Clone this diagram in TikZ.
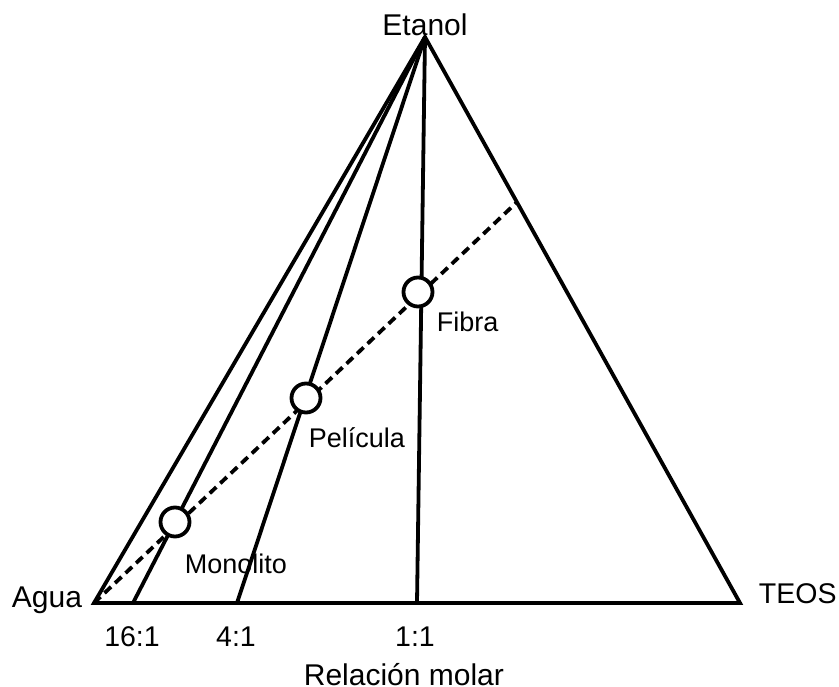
\documentclass[tikz,border=0pt]{standalone}
\usepackage{fontspec}
\setmainfont{Liberation Sans}
\begin{document}
\begin{tikzpicture}[x=1pt,y=-1pt,line width=3.8pt,
  lbl/.style={font=\fontsize{30}{32}\selectfont,inner sep=0pt},
  rlbl/.style={font=\fontsize{28.5}{30}\selectfont,inner sep=0pt},
  slbl/.style={font=\fontsize{27}{29}\selectfont,inner sep=0pt},
  circ/.style={circle,draw,fill=white,minimum size=29pt,inner sep=0pt,line width=3.8pt},
  dashline/.style={dash pattern=on 9pt off 5.5pt}]
\useasboundingbox (0,0) rectangle (839,687);
\coordinate (E) at (425,37);
\coordinate (A) at (94,603);
\coordinate (T) at (740,603);
\coordinate (r16) at (133,603);
\coordinate (r4) at (237,603);
\coordinate (r1) at (417,603);
\coordinate (D) at (516,203);
\draw[dashline] (A) -- (D);
\draw (E) -- (r16);
\draw (E) -- (r4);
\draw (E) -- (r1);
\draw[line join=miter] (A) -- (E) -- (T) -- cycle;
\node[circ] (mono) at (175,522) {};
\node[circ] (peli) at (306,398) {};
\node[circ] (fib) at (418,292) {};
\node[lbl,anchor=base] (etanol) at (425,36) {Etanol};
\node[lbl,anchor=base west] (agua) at (10,607) {Agua};
\node[rlbl,anchor=base west] (teos) at (757,603) {TEOS};
\node[rlbl,anchor=base] (t16) at (132,646) {16:1};
\node[rlbl,anchor=base] (t4) at (236,646) {4:1};
\node[rlbl,anchor=base] (t1) at (415,646) {1:1};
\node[lbl,anchor=base west] (rel) at (302,685) {Relación molar};
\node[slbl,anchor=base west] (tmono) at (183,573) {Monolito};
\node[slbl,anchor=base west] (tpeli) at (307,447) {Película};
\node[slbl,anchor=base west] (tfib) at (435,332) {Fibra};
\end{tikzpicture}
\end{document}
